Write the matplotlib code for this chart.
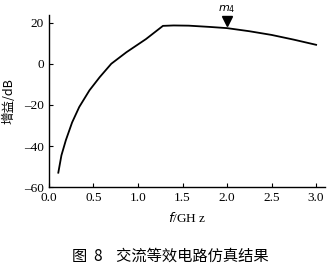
import matplotlib
matplotlib.use("Agg")
import matplotlib.pyplot as plt
import numpy as np

# gain curve
freq = [0.105, 0.14, 0.19, 0.26, 0.34, 0.455, 0.57, 0.70, 0.87, 1.09, 1.28, 1.40, 1.57, 1.80, 2.0, 2.25, 2.5, 2.75, 3.0]
gain = [-52.9, -44.5, -37.1, -28.5, -21.0, -12.9, -6.5, 0.0, 5.6, 12.0, 18.4, 18.6, 18.5, 17.9, 17.3, 15.8, 14.0, 11.7, 9.2]

marker_f = 2.0
marker_g = 20.6
marker_label = "$m_4$"

xticks = [0.0, 0.5, 1.0, 1.5, 2.0, 2.5, 3.0]
yticks = [-60, -40, -20, 0, 20]

plt.rcParams['font.family'] = ['Liberation Serif', 'Noto Sans CJK SC']

fig = plt.figure(figsize=(3.33, 2.67), dpi=100)
ax = fig.add_axes([0.147, 0.2985, 0.829, 0.6455])

ax.plot(freq, gain, color="black", lw=1.3)
ax.plot([marker_f], [marker_g], marker="v", color="black", ms=7, clip_on=False)
ax.text(marker_f, marker_g + 3.2, marker_label, ha="center", va="bottom", fontsize=8, fontweight="bold")

ax.set_xlim(0, 3.1)
ax.set_ylim(-60, 23.7)
ax.set_xticks(xticks)
ax.set_xticklabels(["%.1f" % t for t in xticks])
ax.set_yticks(yticks)
ax.set_yticklabels(["\u2013%d" % -t if t < 0 else "%d" % t for t in yticks])
ax.tick_params(direction="in", length=3, labelsize=9.5, width=0.8)

for s in ["top", "right"]:
    ax.spines[s].set_visible(False)
for s in ["left", "bottom"]:
    ax.spines[s].set_linewidth(1.0)

ax.set_xlabel("$f$/GH z", fontsize=9.5, labelpad=5)
ax.set_ylabel("增益/dB", fontsize=9, family=["Noto Sans CJK SC"], labelpad=6)

fig.text(0.51, 0.008, "图  8    交流等效电路仿真结果", ha="center", va="bottom", fontsize=11,
         family=["Noto Sans CJK SC"])

fig.savefig("out.png", dpi=100)
